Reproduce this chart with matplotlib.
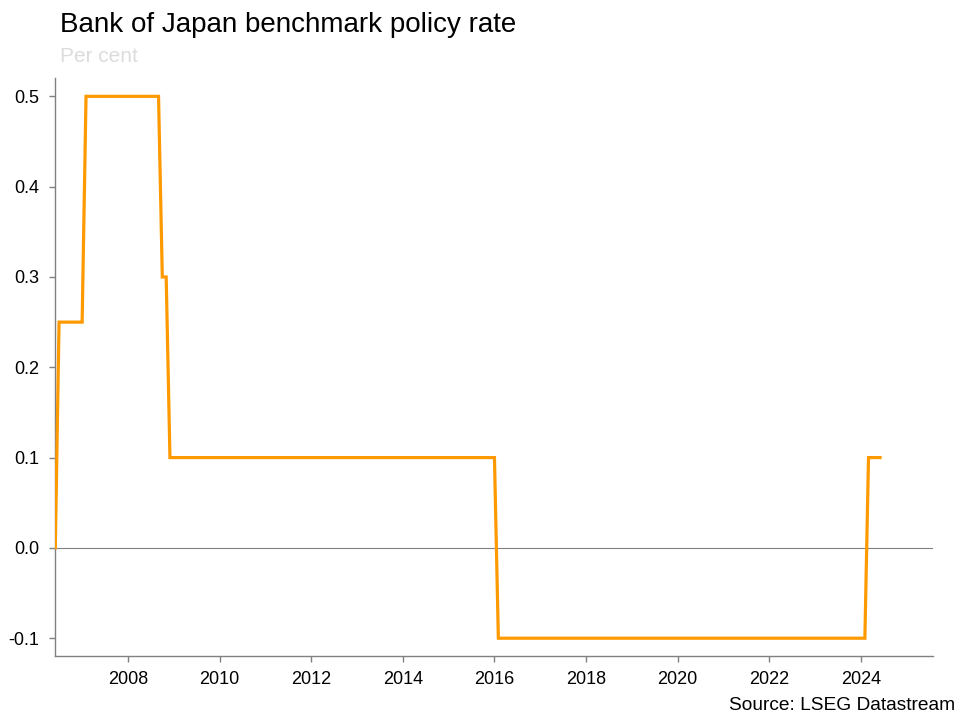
import pandas as pd
import matplotlib
matplotlib.use("Agg")
from matplotlib import pyplot as plt
import matplotlib.dates as mdates

# Policy rate, monthly points where the rate changes (per cent)
dates = ["2006-06-01", "2006-07-01", "2007-01-01", "2007-02-01",
         "2008-09-01", "2008-10-01", "2008-11-01", "2008-12-01",
         "2016-01-01", "2016-02-01", "2024-02-01", "2024-03-01",
         "2024-06-01"]
rates = [0.0, 0.25, 0.25, 0.5,
         0.5, 0.3, 0.3, 0.1,
         0.1, -0.1, -0.1, 0.1,
         0.1]
year_ticks = [2008, 2010, 2012, 2014, 2016, 2018, 2020, 2022, 2024]
y_ticks = [-0.1, 0.0, 0.1, 0.2, 0.3, 0.4, 0.5]

plt.rcParams["font.family"] = ["Liberation Sans", "DejaVu Sans"]
plt.rcParams["axes.unicode_minus"] = False

grey = "#808080"
orange = "#ff9900"

fig = plt.figure(figsize=(9.6, 7.2), dpi=100)
ax = fig.add_axes([0.0576, 0.0885, 0.914, 0.8028])

x = pd.to_datetime(dates)
ax.plot(x, rates, color=orange, lw=2.3, solid_joinstyle="miter", zorder=3)
ax.axhline(0, color=grey, lw=0.8, zorder=2)

ax.set_xlim(pd.Timestamp("2006-06-01"), pd.Timestamp("2025-07-26"))
ax.set_ylim(-0.12, 0.52)

ax.set_xticks([pd.Timestamp(f"{y}-01-01") for y in year_ticks])
ax.xaxis.set_major_formatter(mdates.DateFormatter("%Y"))
ax.set_yticks(y_ticks)
ax.set_yticklabels([f"{v:.1f}" for v in y_ticks])

for s in ["top", "right"]:
    ax.spines[s].set_visible(False)
for s in ["left", "bottom"]:
    ax.spines[s].set_color(grey)
    ax.spines[s].set_linewidth(1)
ax.tick_params(colors=grey, labelcolor="black", length=4.5, width=1,
               labelsize=13)
ax.tick_params(axis="x", pad=6)
ax.tick_params(axis="y", pad=7)

fig.text(0.0625, 0.955, "Bank of Japan benchmark policy rate", fontsize=20,
         color="black", ha="left", va="baseline")
fig.text(0.0625, 0.914, "Per cent", fontsize=15, color="#dcdcdc",
         ha="left", va="baseline")
fig.text(0.995, 0.008, "Source: LSEG Datastream", fontsize=13.8,
         color="black", ha="right", va="bottom")

fig.savefig("out.png", dpi=100)
